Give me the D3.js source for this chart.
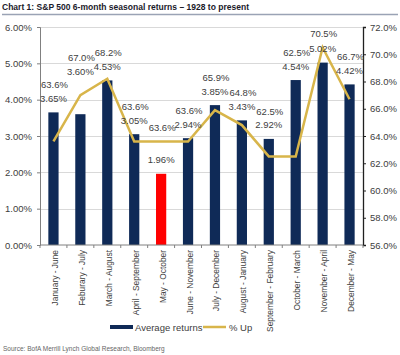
<!DOCTYPE html>
<html><head><meta charset="utf-8">
<script src="https://cdn.jsdelivr.net/npm/d3@7"></script>
<style>
body{margin:0;background:#fff;}
text{font-family:"Liberation Sans Narrow","Arial Narrow","Liberation Sans",Arial,sans-serif;}
</style></head><body>
<svg id="c" width="400" height="355"></svg>
<script>
const categories = ["January - June","Feburary - July","March - August","April - September","May - October","June - November","July - December","August - January","September - February","October - March","November - April","December - May"];
const avgReturns = [3.65,3.60,4.53,3.05,1.96,2.94,3.85,3.43,2.92,4.54,5.02,4.42];
const pctUp = [63.6,67.0,68.2,63.6,63.6,63.6,65.9,64.8,62.5,62.5,70.5,66.7];
const leftTicks = [0,1,2,3,4,5,6];
const rightTicks = [56,58,60,62,64,66,68,70,72];
const highlight = "May - October";

const svg = d3.select("#c");
const m = {l:40, r:37, t:27, b:110};
const W = 400, H = 355;
const x = d3.scaleBand().domain(categories).range([m.l, W-m.r]).paddingInner(0.62).paddingOuter(0.31);
const yL = d3.scaleLinear().domain([0,6]).range([H-m.b, m.t]);
const yR = d3.scaleLinear().domain([56,72]).range([H-m.b, m.t]);

// title
svg.append("text").attr("x",2).attr("y",10).attr("font-size",9.5).attr("font-weight","bold").attr("fill","#1a1a2a")
  .attr("textLength",247).attr("lengthAdjust","spacingAndGlyphs")
  .text("Chart 1: S&P 500 6-month seasonal returns \u2013 1928 to present");
svg.append("line").attr("x1",2).attr("x2",398).attr("y1",14.5).attr("y2",14.5).attr("stroke","#9aa3b5").attr("stroke-width",1.5);

// gridlines
svg.append("g").selectAll("line").data(leftTicks.slice(1)).join("line")
  .attr("x1",m.l).attr("x2",W-m.r).attr("y1",d=>Math.round(yL(d))+0.5).attr("y2",d=>Math.round(yL(d))+0.5)
  .attr("stroke","#d9d9d9").attr("stroke-width",1);

// left axis
const gL = svg.append("g").attr("transform",`translate(${m.l},0)`)
  .call(d3.axisLeft(yL).tickValues(leftTicks).tickFormat(d=>d3.format(".2f")(d)+"%").tickSize(3).tickPadding(5));
gL.select(".domain").attr("stroke","#808080");
gL.selectAll(".tick line").attr("stroke","#808080");
gL.selectAll("text").attr("font-size",9.5).attr("fill","#404040").style("font-family",null);

// right axis
const gR = svg.append("g").attr("transform",`translate(${W-m.r},0)`)
  .call(d3.axisRight(yR).tickValues(rightTicks).tickFormat(d=>d3.format(".1f")(d)+"%").tickSize(3).tickPadding(4));
gR.select(".domain").attr("stroke","#202020").attr("stroke-width",1.3);
gR.selectAll(".tick line").attr("stroke","#202020");
gR.selectAll("text").attr("font-size",9.5).attr("fill","#404040").style("font-family",null);

// bars
svg.append("g").selectAll("rect").data(categories).join("rect")
  .attr("x",d=>x(d)).attr("width",x.bandwidth())
  .attr("y",(d,i)=>yL(avgReturns[i])).attr("height",(d,i)=>yL(0)-yL(avgReturns[i]))
  .attr("fill",d=>d===highlight?"#ff0000":"#0f2a57");

// bottom axis
const gB = svg.append("g").attr("transform",`translate(0,${H-m.b})`);
gB.append("line").attr("x1",m.l).attr("x2",W-m.r).attr("stroke","#808080");
const step = x.step();
const bounds = categories.map(c=>x(c) - (step - x.bandwidth())/2);
bounds.push(W-m.r);
gB.selectAll("line.t").data(bounds).join("line").attr("class","t")
  .attr("x1",d=>d).attr("x2",d=>d).attr("y1",0).attr("y2",3).attr("stroke","#808080");
gB.selectAll("text").data(categories).join("text")
  .attr("transform",d=>`translate(${x(d)+x.bandwidth()/2+4.5},5) rotate(-90)`)
  .attr("text-anchor","end").attr("font-size",8.4).attr("fill","#404040")
  .style("font-family","'Liberation Sans',Arial,sans-serif").text(d=>d);

// line
const line = d3.line().x((d,i)=>x(categories[i])+x.bandwidth()/2).y(d=>yR(d));
svg.append("path").datum(pctUp).attr("d",line).attr("fill","none").attr("stroke","#d8b54a").attr("stroke-width",2.5).attr("stroke-linejoin","miter");

// labels
const lab = svg.append("g");
categories.forEach((c,i)=>{
  const cx = x(c)+x.bandwidth()/2;
  const bt = yL(avgReturns[i]);
  const ly = yR(pctUp[i]);
  let vy = bt - 14;
  const gap = bt - ly;
  if (gap > 17 && gap < 28) vy = Math.min(vy, ly - 24);
  const uy = Math.min(vy - 13.5, ly - 14);
  lab.append("text").attr("x",cx).attr("y",vy+3.5).attr("text-anchor","middle").attr("font-size",9.5).attr("fill","#404040")
    .text(d3.format(".2f")(avgReturns[i])+"%");
  lab.append("text").attr("x",cx+1).attr("y",uy+3.5).attr("text-anchor","middle").attr("font-size",9.5).attr("fill","#404040")
    .text(d3.format(".1f")(pctUp[i])+"%");
});

// legend
const lg = svg.append("g").attr("transform","translate(0,327)");
lg.append("rect").attr("x",110).attr("y",-2).attr("width",23).attr("height",4).attr("fill","#0f2a57");
lg.append("text").attr("x",135).attr("y",3.5).attr("font-size",9.5).attr("fill","#404040").text("Average returns");
lg.append("line").attr("x1",203).attr("x2",226).attr("y1",0).attr("y2",0).attr("stroke","#d8b54a").attr("stroke-width",2.5);
lg.append("text").attr("x",229).attr("y",3.5).attr("font-size",9.5).attr("fill","#404040").text("% Up");

// source
svg.append("text").attr("x",3).attr("y",351).attr("font-size",6.5).attr("fill","#666").text("Source: BofA Merrill Lynch Global Research, Bloomberg");
</script>
</body></html>
